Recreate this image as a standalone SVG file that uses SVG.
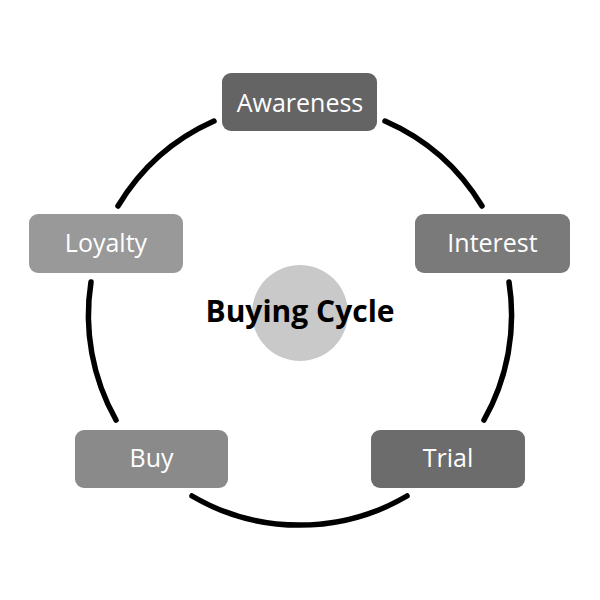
<svg xmlns="http://www.w3.org/2000/svg" width="600" height="600" viewBox="0 0 600 600">
<style>
.box{stroke:none}
.lbl{font-family:"Open Sans","Noto Sans",sans-serif;font-size:25px;fill:#ffffff;text-anchor:middle}
.arc{fill:none;stroke:#000;stroke-width:5.5;stroke-linecap:round}
.title{font-family:"Open Sans","Noto Sans",sans-serif;font-size:30px;font-weight:bold;fill:#000;text-anchor:middle}
</style>
<rect width="600" height="600" fill="#ffffff"/>
<g id="connectors">
<path class="arc" d="M385,121 A213,213 0 0 1 482,206"/>
<path class="arc" d="M509,282 A213,213 0 0 1 484,420"/>
<path class="arc" d="M407,496 A213,213 0 0 1 192,496"/>
<path class="arc" d="M116,420 A213,213 0 0 1 91,282"/>
<path class="arc" d="M118,206 A213,213 0 0 1 214,121"/>
</g>
<g id="center">
<circle cx="300" cy="313" r="48" fill="#c9c9c9"/>
<text class="title" x="300" y="322">Buying Cycle</text>
</g>
<g id="awareness">
<rect class="box" x="222" y="73" width="155" height="58" rx="9" fill="#646464"/>
<text class="lbl" x="300" y="112">Awareness</text>
</g>
<g id="interest">
<rect class="box" x="415" y="214" width="155" height="59" rx="9" fill="#7a7a7a"/>
<text class="lbl" x="492.5" y="252">Interest</text>
</g>
<g id="trial">
<rect class="box" x="371" y="430" width="154" height="58" rx="9" fill="#6c6c6c"/>
<text class="lbl" x="448" y="467">Trial</text>
</g>
<g id="buy">
<rect class="box" x="75" y="430" width="153" height="58" rx="9" fill="#8a8a8a"/>
<text class="lbl" x="151.5" y="467">Buy</text>
</g>
<g id="loyalty">
<rect class="box" x="29" y="214" width="154" height="59" rx="9" fill="#999999"/>
<text class="lbl" x="106" y="252">Loyalty</text>
</g>
</svg>
